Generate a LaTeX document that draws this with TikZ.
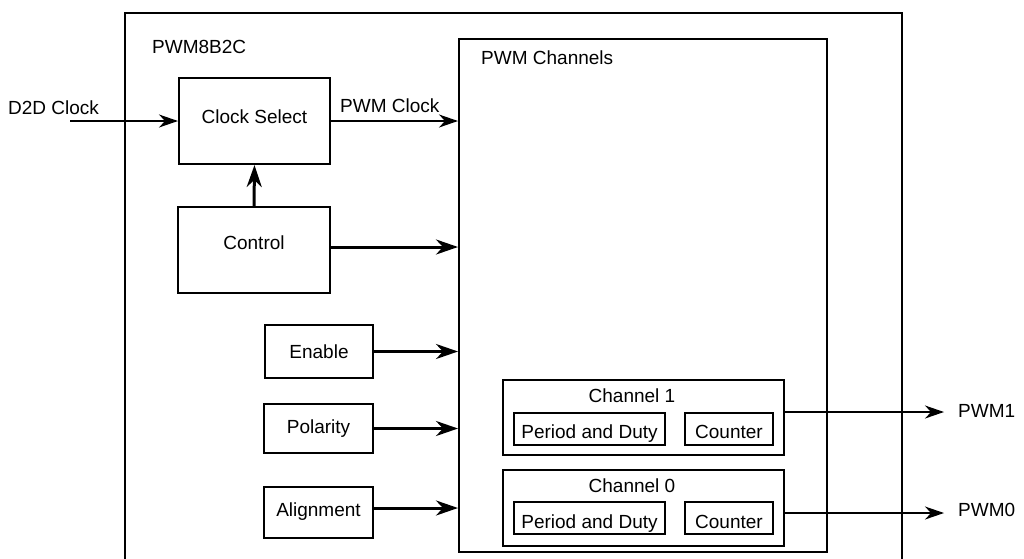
\documentclass[tikz,border=0pt]{standalone}
\usepackage{fontspec}
\setmainfont{Liberation Sans}
\usetikzlibrary{arrows.meta}
\tikzset{
  box/.style={draw, line width=2pt, rectangle, inner sep=0pt},
  txt/.style={inner sep=0pt, text height=13.6pt, text depth=0pt, font=\fontsize{19}{23}\selectfont},
  thin arrow/.style={line width=1.6pt, -{Stealth[length=19pt,width=13pt,inset=6pt]}},
  thick arrow/.style={line width=3pt, -{Stealth[length=22pt,width=15pt,inset=7pt]}},
}
\begin{document}
\begin{tikzpicture}[x=1pt,y=-1pt]
\useasboundingbox (0,0) rectangle (1024,558);
% outer block (cut off at bottom)
\node[box, minimum width=777pt, minimum height=580pt] (outer) at (513.5,303) {};
\node[txt, anchor=west] (title) at (152,47) {PWM8B2C};
% PWM channels block
\node[box, minimum width=368pt, minimum height=513pt] (chs) at (643,295.5) {};
\node[txt, anchor=west] (chstitle) at (481,57.5) {PWM Channels};
% left blocks
\node[box, minimum width=151pt, minimum height=86pt] (cs) at (254.5,121) {};
\node[txt] (cstext) at (254.5,117) {Clock Select};
\node[box, minimum width=152pt, minimum height=86pt] (ctrl) at (254,250) {};
\node[txt] (ctrltext) at (254,243) {Control};
\node[box, minimum width=108pt, minimum height=53pt] (en) at (319,351.5) {};
\node[txt] (entext) at (319,352) {Enable};
\node[box, minimum width=109pt, minimum height=49pt] (pol) at (318.5,428.5) {};
\node[txt] (poltext) at (318.5,427) {Polarity};
\node[box, minimum width=109pt, minimum height=51pt] (ali) at (318.5,512.5) {};
\node[txt] (alitext) at (318.5,510) {Alignment};
% channels
\node[box, minimum width=281pt, minimum height=75pt] (ch1) at (643.5,417.5) {};
\node[txt] (ch1text) at (632,396) {Channel 1};
\node[box, minimum width=151pt, minimum height=32pt] (pd1) at (589.5,428.5) {};
\node[txt] (pd1text) at (589.5,432) {Period and Duty};
\node[box, minimum width=88pt, minimum height=32pt] (cn1) at (729,428.5) {};
\node[txt] (cn1text) at (729,432) {Counter};
\node[box, minimum width=281pt, minimum height=76pt] (ch0) at (643.5,508) {};
\node[txt] (ch0text) at (632,486) {Channel 0};
\node[box, minimum width=151pt, minimum height=32pt] (pd0) at (589.5,518) {};
\node[txt] (pd0text) at (589.5,522) {Period and Duty};
\node[box, minimum width=88pt, minimum height=32pt] (cn0) at (729,518) {};
\node[txt] (cn0text) at (729,522) {Counter};
% external labels
\node[txt, anchor=west] (d2d) at (8,108) {D2D Clock};
\coordinate (d2dstart) at (70,121);
\node[txt, anchor=west] (pwmclk) at (340,106) {PWM Clock};
\node[txt, anchor=west] (pwm1) at (958,411) {PWM1};
\node[txt, anchor=west] (pwm0) at (958,510) {PWM0};
\coordinate (pwm1end) at (944,412);
\coordinate (pwm0end) at (944,513);
% connectors
\draw[thin arrow] (d2dstart) -- (cs.west);
\draw[thin arrow] (cs.east) -- (cs.east -| chs.west);
\draw[thick arrow] (ctrl.north) -- (cs.south);
\draw[thick arrow] ([yshift=3pt]ctrl.east) -- ([yshift=3pt]ctrl.east -| chs.west);
\draw[thick arrow] (en.east) -- (en.east -| chs.west);
\draw[thick arrow] (pol.east) -- (pol.east -| chs.west);
\draw[thick arrow] ([yshift=4.5pt]ali.east) -- ([yshift=4.5pt]ali.east -| chs.west);
\draw[thin arrow] (pwm1end -| ch1.east) -- (pwm1end);
\draw[thin arrow] (pwm0end -| ch0.east) -- (pwm0end);
\end{tikzpicture}
\end{document}
